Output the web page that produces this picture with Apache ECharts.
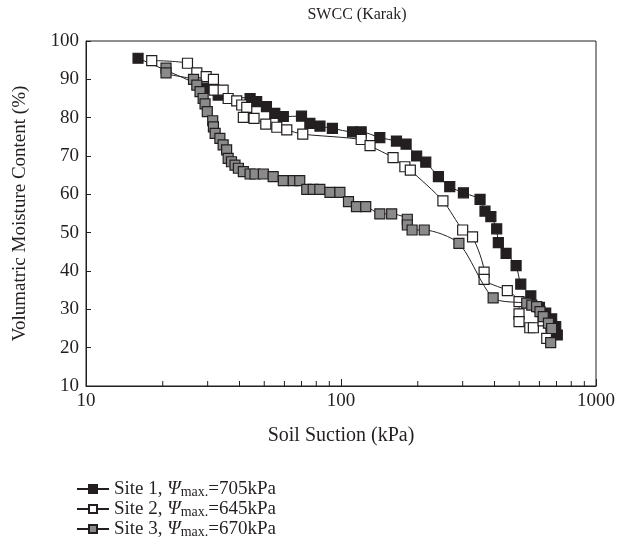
<!DOCTYPE html>
<html>
<head>
<meta charset="utf-8">
<script src="https://cdn.jsdelivr.net/npm/echarts@6/dist/echarts.min.js"></script>
<style>
  html, body { margin: 0; padding: 0; background: #fff; }
  #chart { width: 627px; height: 550px; }
</style>
</head>
<body>
<div id="chart"></div>
<script>
// suction (kPa), moisture content (%)
const site1 = [
  [16, 95.5], [29.7, 87.7], [33, 85.9], [44, 85], [46.7, 84.2], [51, 82.9], [55, 81.1],
  [59.4, 80.3], [70, 80.4], [75.5, 78.5], [82.7, 77.8], [92.5, 77.2], [111, 76.3], [120, 76.3],
  [142, 74.8], [165, 73.9], [180, 73.1], [198, 70], [215, 68.4], [241, 64.6], [267, 62],
  [302, 60.4], [351, 58.7], [367, 55.6], [387, 54.2], [408, 51], [414, 47.4], [444, 44.6],
  [486, 41.4], [507, 36.6], [555, 33.5], [600, 30.5], [635, 29], [670, 27.5], [695, 25.5], [705, 23.3]
];
const site2 = [
  [18.1, 94.9], [25, 94.2], [27.2, 91.7], [29.6, 90.7], [31.6, 90], [31.8, 87.2], [34.5, 87.2],
  [36.1, 85], [39, 84.4], [40.8, 83.3], [42.7, 82.7], [41.4, 80.1], [45.6, 79.8], [50.7, 78.3],
  [56, 77.5], [61.3, 76.8], [70.8, 75.7], [120, 74.3], [130, 72.7], [160, 69.6], [178, 67.2],
  [187, 66.3], [251, 58.3], [300, 50.7], [328, 48.9], [364, 39.7], [364, 37.8], [449, 34.9],
  [499, 32], [499, 28.8], [499, 26.8], [550, 25.2], [568, 25.2], [620, 27], [641, 22.4]
];
const site3 = [
  [20.6, 92.9], [20.6, 91.7], [26.4, 90], [27.2, 88.5], [28, 86.8], [28.8, 85], [29.3, 83.6],
  [29.9, 81.6], [31.4, 79.2], [31.6, 77.6], [32.1, 75.9], [33.5, 74.6], [34.5, 72.9], [35.6, 71.6],
  [36.1, 69.4], [37.2, 68.5], [38.4, 67.6], [39.6, 66.8], [41.4, 65.9], [44, 65.3], [46, 65.3],
  [49.6, 65.3], [54.2, 64.6], [59.4, 63.6], [65, 63.6], [68.9, 63.6], [73.4, 61.3], [77.8, 61.3],
  [82.6, 61.3], [90.5, 60.5], [99, 60.5], [107, 58.1], [115, 56.8], [125, 56.8], [142, 54.9],
  [158, 54.9], [182, 53.5], [182, 52], [190, 50.7], [212, 50.7], [290, 47.2], [395, 33],
  [535, 31.6], [560, 31.1], [585, 30.7], [603, 29.4], [621, 28.1], [651, 26.4], [670, 25], [664, 21.3]
];
const siteNames = ['Site 1', 'Site 2', 'Site 3'];
const psiMax = ['705kPa', '645kPa', '670kPa'];
const minorTicks = [20, 30, 40, 50, 60, 70, 80, 90, 200, 300, 400, 500, 600, 700, 800, 900];

const ink = '#231f20';
const font = 'Liberation Serif';
const fills = ['#231f20', '#ffffff', '#8a8a8a'];

const chart = echarts.init(document.getElementById('chart'));

const makeSeries = (i, data) => ({
  name: siteNames[i],
  type: 'line',
  data: data,
  smooth: 0.25,
  symbol: 'rect',
  symbolSize: 10,
  lineStyle: { color: ink, width: 1 },
  itemStyle: { color: fills[i], borderColor: ink, borderWidth: 1.2 },
  emphasis: { disabled: true },
  z: 3 + i
});

chart.setOption({
  animation: false,
  textStyle: { fontFamily: font, color: ink },
  title: {
    text: 'SWCC (Karak)',
    left: 352, top: 2,
    textAlign: 'center',
    textStyle: { fontFamily: font, fontWeight: 'normal', fontSize: 16, color: ink }
  },
  grid: {
    left: 86, right: 31, top: 41, bottom: 164,
    show: true, borderColor: ink, borderWidth: 1
  },
  legend: {
    orient: 'vertical',
    left: 76, top: 479, height: 80,
    padding: 0,
    itemWidth: 32, itemHeight: 10, itemGap: 0,
    data: siteNames,
    formatter: function (name) {
      const i = siteNames.indexOf(name);
      return '{a|' + name + ', }{p|\u03A8}{s|max.}{a|=' + psiMax[i] + '}';
    },
    textStyle: {
      color: ink, fontFamily: font, fontSize: 19,
      rich: {
        a: { fontFamily: font, fontSize: 19, color: ink, lineHeight: 20 },
        p: { fontFamily: font, fontSize: 19, color: ink, fontStyle: 'italic', lineHeight: 20 },
        s: { fontFamily: font, fontSize: 14, color: ink, verticalAlign: 'bottom', lineHeight: 14, padding: [6, 0, 0, 0] }
      }
    }
  },
  xAxis: {
    type: 'log',
    logBase: 10,
    min: 10, max: 1000,
    name: 'Soil Suction (kPa)',
    nameLocation: 'middle',
    nameGap: 40,
    nameTextStyle: { fontFamily: font, fontSize: 20, color: ink },
    axisLine: { lineStyle: { color: ink, width: 1 } },
    axisTick: { inside: true, length: 7, lineStyle: { color: ink } },
    axisLabel: { fontFamily: font, fontSize: 19, color: ink, margin: 6, formatter: v => String(v) },
    splitLine: { show: false }
  },
  yAxis: {
    type: 'value',
    min: 10, max: 100, interval: 10,
    name: 'Volumatric Moisture Content (%)',
    nameLocation: 'middle',
    nameGap: 56,
    nameTextStyle: { fontFamily: font, fontSize: 19, color: ink },
    axisLine: { show: true, lineStyle: { color: ink, width: 1 } },
    axisTick: { show: true, inside: true, length: 5, lineStyle: { color: ink } },
    axisLabel: { fontFamily: font, fontSize: 19, color: ink, margin: 7 },
    splitLine: { show: false }
  },
  series: [
    makeSeries(0, site1),
    makeSeries(1, site2),
    makeSeries(2, site3),
    {
      // minor ticks of the log axis (20..90, 200..900)
      type: 'custom',
      silent: true,
      clip: false,
      encode: { x: 0, y: 1 },
      data: minorTicks.map(v => [v, 10]),
      renderItem: function (params, api) {
        const p = api.coord([api.value(0), api.value(1)]);
        return {
          type: 'line',
          shape: { x1: p[0], y1: p[1], x2: p[0], y2: p[1] - 5 },
          style: { stroke: ink, lineWidth: 1 }
        };
      },
      z: 10
    }
  ]
});
</script>
</body>
</html>
